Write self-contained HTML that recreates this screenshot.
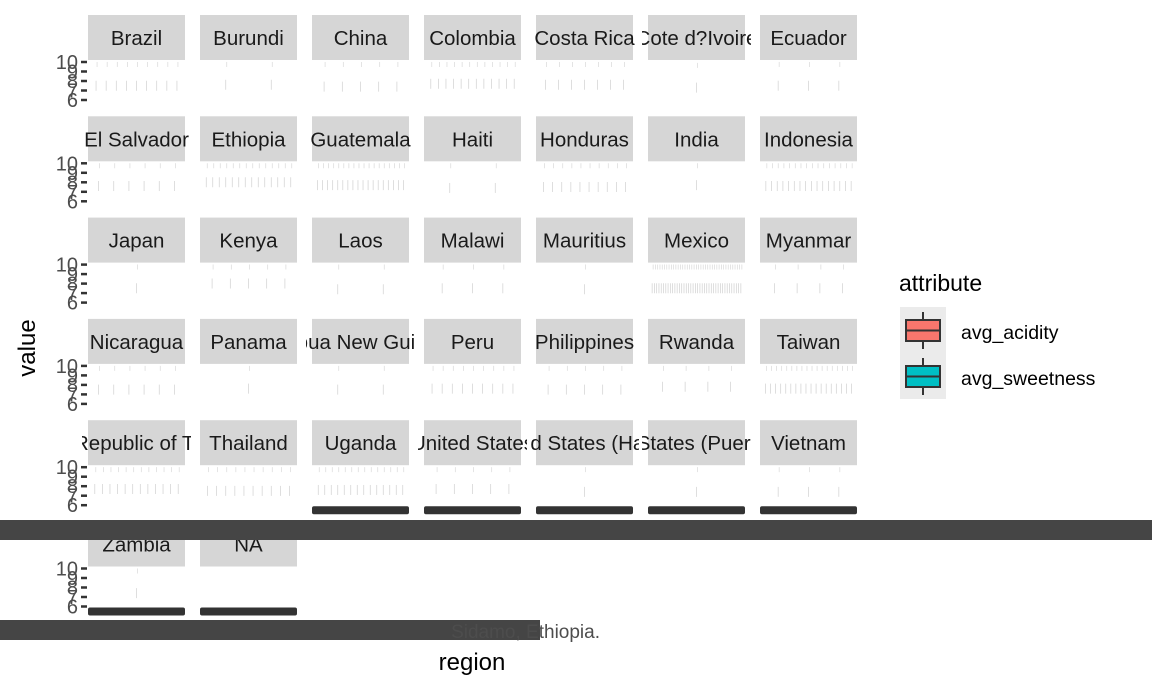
<!DOCTYPE html>
<html><head><meta charset="utf-8"><style>
body{margin:0;background:#fff}
svg{display:block;font-family:"Liberation Sans",sans-serif}
</style></head><body>
<svg id="chart" width="1152" height="691" viewBox="0 0 1152 691" xmlns="http://www.w3.org/2000/svg">
<g id="panels"></g>
<g id="bands"></g>
<text x="35" y="348" font-size="24" text-anchor="middle" transform="rotate(-90 35 348)" fill="#000">value</text>
<text x="472" y="670" font-size="24" text-anchor="middle" fill="#000">region</text>
<g>
<text x="899" y="291" font-size="23" fill="#000">attribute</text>
<g>
<rect x="900" y="307" width="46" height="46" fill="#ebebeb"/>
<line x1="923" y1="312" x2="923" y2="349" stroke="#333" stroke-width="2"/>
<rect x="906" y="320" width="34" height="21" fill="#F8766D" stroke="#333" stroke-width="2"/>
<line x1="906" y1="330.5" x2="940" y2="330.5" stroke="#333" stroke-width="2"/>
<text x="961" y="339" font-size="19.5" fill="#000">avg_acidity</text></g>
<g>
<rect x="900" y="353" width="46" height="46" fill="#ebebeb"/>
<line x1="923" y1="358" x2="923" y2="395" stroke="#333" stroke-width="2"/>
<rect x="906" y="366" width="34" height="21" fill="#00BFC4" stroke="#333" stroke-width="2"/>
<line x1="906" y1="376.5" x2="940" y2="376.5" stroke="#333" stroke-width="2"/>
<text x="961" y="385" font-size="19.5" fill="#000">avg_sweetness</text></g>
</g>
</svg>
<script>
const countries=["Brazil","Burundi","China","Colombia","Costa Rica","Cote d?Ivoire","Ecuador","El Salvador","Ethiopia","Guatemala","Haiti","Honduras","India","Indonesia","Japan","Kenya","Laos","Malawi","Mauritius","Mexico","Myanmar","Nicaragua","Panama","Papua New Guinea","Peru","Philippines","Rwanda","Taiwan","United Republic of Tanzania","Thailand","Uganda","United States","United States (Hawaii)","United States (Puerto Rico)","Vietnam","Zambia","NA"];
const regionCounts=[9,2,5,12,7,1,3,6,14,18,2,10,1,16,1,5,2,3,1,40,4,6,1,2,9,5,4,18,12,10,14,5,1,1,3,1,0];
const acidity=[7.4,7.5,7.3,7.6,7.5,7.2,7.4,7.5,7.9,7.6,7.3,7.4,7.6,7.5,7.4,7.9,7.3,7.4,7.3,7.4,7.4,7.4,7.5,7.4,7.5,7.4,7.7,7.5,7.6,7.4,7.5,7.6,7.3,7.3,7.3,7.3,7.3];
const sweetness=[9.9,9.9,9.9,9.9,9.9,9.8,9.9,9.9,9.9,9.9,9.9,9.9,9.9,9.9,9.9,9.9,9.9,9.9,9.9,9.9,9.9,9.9,9.9,9.9,9.9,9.9,9.9,9.9,9.9,9.9,9.9,9.9,9.9,9.9,9.9,9.9,9.9];
const yTicks=[6,7,8,9,10];
const NS="http://www.w3.org/2000/svg";
const P=document.getElementById('panels');
function mk(t,a,parent){const e=document.createElementNS(NS,t);for(const k in a)e.setAttribute(k,a[k]);(parent||P).appendChild(e);return e;}
const colX=c=>88+c*112, PW=97, rowTop=r=>15+r*101.3, SH=45, PH=43;
const yS=(v,top)=>top+2+(10-v)*9.5;
countries.forEach((name,i)=>{
  const r=Math.floor(i/7),c=i%7,x=colX(c),t=rowTop(r),pt=t+SH;
  const g=mk('g',{});
  
  
  mk('rect',{x:x,y:t,width:PW,height:SH,fill:'#d6d6d6'},g);
  const cp=mk('clipPath',{id:'cp'+i},g);mk('rect',{x:x-6,y:t,width:PW+12,height:SH},cp);
  const st=mk('text',{x:x+PW/2,y:t+30,'font-size':20.5,'text-anchor':'middle',fill:'#1a1a1a','clip-path':'url(#cp'+i+')'},g);
  st.textContent=name;
  
  
  const n=regionCounts[i];
  for(let k=0;k<n;k++){
    const xx=x+3+(k+0.5)*(PW-6)/n;
    const ya=yS(acidity[i],pt), ysw=yS(sweetness[i],pt);
    const l1=mk('line',{x1:xx,x2:xx,y1:ya-6,y2:ya+4,stroke:'#d0d0d0','stroke-width':0.7},g);
    
    
    const l2=mk('line',{x1:xx+1,x2:xx+1,y1:ysw-1,y2:ysw+4,stroke:'#d8d8d8','stroke-width':0.7},g);
    
    
  }
  if(c===0){
    yTicks.forEach(v=>{
      const yy=yS(v,pt);
      mk('line',{x1:81,x2:87,y1:yy,y2:yy,stroke:'#333','stroke-width':2.5},g);
      const tl=mk('text',{x:78,y:yy+7,'font-size':20,'text-anchor':'end',fill:'#4d4d4d'},g);
      tl.textContent=v;
      
      
    });
  }
  const below=i+7;
  if(below>=countries.length){
    const bb=mk('rect',{x:x,y:pt+PH-2,width:PW,height:8,rx:2,fill:'#333'},g);
    
    
  }
});
const B=document.getElementById('bands');
const band1=mk('rect',{x:0,y:520,width:1152,height:20,fill:'#454545'},B);


const band2=mk('rect',{x:0,y:620,width:540,height:20,fill:'#454545'},B);


const bt=mk('text',{x:600,y:638,'font-size':19,'text-anchor':'end',fill:'#4d4d4d'},B);
bt.textContent='Sidamo, Ethiopia.';


</script>
</body></html>
